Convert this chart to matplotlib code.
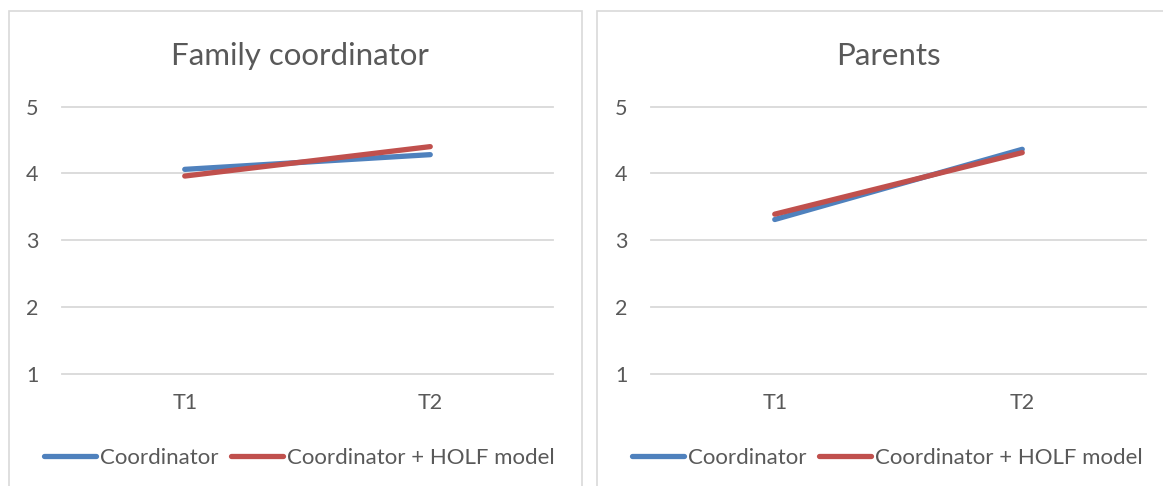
import matplotlib
matplotlib.use("Agg")
import matplotlib.pyplot as plt
from matplotlib.patches import Rectangle

# data
times = ["T1", "T2"]
panel_titles = ["Family coordinator", "Parents"]
coordinator = [[4.06, 4.28], [3.31, 4.36]]
coordinator_holf = [[3.96, 4.40], [3.39, 4.31]]
series_names = ["Coordinator", "Coordinator + HOLF model"]
y_ticks = [1, 2, 3, 4, 5]

BLUE = "#4F81BD"
RED = "#C0504D"
TEXT = "#595959"
GRID = "#D9D9D9"

plt.rcParams["font.family"] = ["Lato", "DejaVu Sans"]

W, H = 1163, 486
fig = plt.figure(figsize=(W / 100, H / 100), dpi=100)

# panel frames (pixels): left, right (right one runs past the image edge)
frames = [(9, 582), (597, 1190)]
# plot areas (pixels): x0, x1
areas = [(62, 553), (651, 1146)]
title_px = [300, 888]
legend_px = [299.5, 887]
y_top, y_bot = 106.5, 374

for i in range(2):
    fx0, fx1 = frames[i]
    fig.add_artist(Rectangle((fx0 / W, -0.05), (fx1 - fx0) / W, 1.05 - 11 / H,
                             transform=fig.transFigure, fill=False,
                             edgecolor=GRID, linewidth=1.2))

    x0, x1 = areas[i]
    ax = fig.add_axes([x0 / W, 1 - y_bot / H, (x1 - x0) / W, (y_bot - y_top) / H])
    xs = range(len(times))
    ax.plot(xs, coordinator[i], color=BLUE, lw=3.8, solid_capstyle="round",
            label=series_names[0])
    ax.plot(xs, coordinator_holf[i], color=RED, lw=3.8, solid_capstyle="round",
            label=series_names[1])

    ax.set_xlim(-0.5, 1.5)
    ax.set_ylim(1, 5)
    ax.set_yticks(y_ticks)
    ax.set_xticks(list(xs))
    ax.set_xticklabels(times)
    for yv in y_ticks:
        ax.axhline(yv, color=GRID, lw=1.3, zorder=0, clip_on=False)
    for s in ax.spines.values():
        s.set_visible(False)
    ax.tick_params(length=0, labelsize=15.5, colors=TEXT)
    ax.tick_params(axis="y", pad=17)
    ax.tick_params(axis="x", pad=14)

    tx = (title_px[i] - x0) / (x1 - x0)
    ax.set_title(panel_titles[i], fontsize=22.5, color=TEXT, x=tx, y=1.0, pad=30)

    lx = (legend_px[i] - x0) / (x1 - x0)
    ax.legend(loc="center", bbox_to_anchor=(lx, -0.313), ncol=2,
              frameon=False, fontsize=16, handlelength=2.35, handletextpad=0.18,
              columnspacing=0.55, labelcolor=TEXT)

fig.savefig("out.png", dpi=100, facecolor="white")
